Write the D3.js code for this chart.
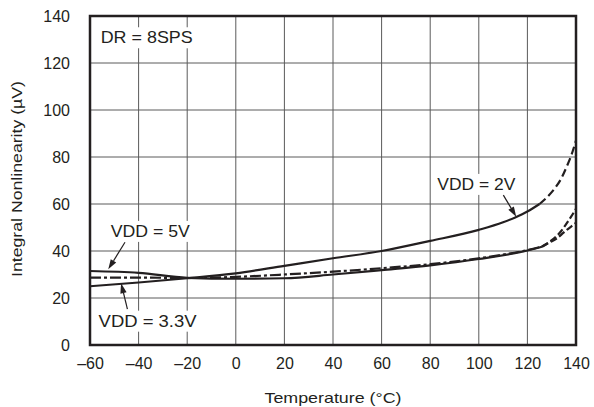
<!DOCTYPE html>
<html>
<head>
  <meta charset="utf-8">
  <script src="https://d3js.org/d3.v7.min.js"></script>
  <style>
    body { margin: 0; background: #fff; }
    text { font-family: "Liberation Sans", Arial, sans-serif; fill: #231f20; }
    .grid line { stroke: #5a5a5a; stroke-width: 1; }
    .curve { fill: none; stroke: #231f20; stroke-width: 2.2; }
  </style>
</head>
<body>
<script>
  // data
  var xTicks = [-60, -40, -20, 0, 20, 40, 60, 80, 100, 120, 140];
  var yTicks = [0, 20, 40, 60, 80, 100, 120, 140];

  var temp2V = [-60, -40, -20, 0, 20, 40, 60, 80, 100, 110, 115, 120, 125];
  var inl2V = [25, 26.6, 28.4, 30.5, 33.7, 36.9, 40, 44.3, 49, 52.2, 54.3, 56.8, 60];
  var temp2VExt = [125, 128, 131, 134, 136, 138, 140];
  var inl2VExt = [60, 62.8, 66.3, 71, 75.5, 80.5, 87];

  var temp5V = [-60, -40, -20, 0, 20, 40, 60, 80, 100, 120, 126];
  var inl5V = [31.5, 30.7, 28.6, 28.2, 28.4, 30.0, 31.9, 33.9, 36.6, 40.2, 41.8];
  var temp5VExt = [126, 129, 132, 134, 136, 138, 140];
  var inl5VExt = [41.8, 43.6, 45.3, 47, 48.8, 50.4, 52];

  var temp33V = [-60, -40, -20, 0, 20, 40, 60, 80, 100, 120, 126];
  var inl33V = [28.7, 28.7, 28.5, 29.0, 30.0, 31.2, 32.7, 34.4, 36.9, 40.4, 41.9];
  var temp33VExt = [126, 129, 132, 134, 136, 138, 140];
  var inl33VExt = [41.9, 43.8, 46.3, 48.6, 51.5, 54.6, 58];

  var width = 594, height = 407;
  var margin = { left: 90, top: 16, right: 18, bottom: 62 };
  var w = width - margin.left - margin.right,
      h = height - margin.top - margin.bottom;

  var svg = d3.select("body").append("svg")
      .attr("width", width)
      .attr("height", height);

  var x = d3.scaleLinear().domain([-60, 140]).range([margin.left, margin.left + w]);
  var y = d3.scaleLinear().domain([0, 140]).range([margin.top + h, margin.top]);

  // grid
  var grid = svg.append("g").attr("class", "grid");
  grid.selectAll(".vx").data(xTicks.slice(1, -1)).enter().append("line")
      .attr("x1", function(d) { return x(d); })
      .attr("x2", function(d) { return x(d); })
      .attr("y1", y(0)).attr("y2", y(140));
  grid.selectAll(".hy").data(yTicks.slice(1, -1)).enter().append("line")
      .attr("y1", function(d) { return y(d); })
      .attr("y2", function(d) { return y(d); })
      .attr("x1", x(-60)).attr("x2", x(140));

  // axes: labels only, no tick marks
  var xAxis = svg.append("g")
      .attr("transform", "translate(0," + (y(0) + 10) + ")")
      .call(d3.axisBottom(x).tickValues(xTicks).tickSize(0).tickFormat(function(d) { return d < 0 ? "\u2013" + (-d) : d; }));
  xAxis.select(".domain").remove();
  xAxis.selectAll("text").attr("font-size", 16).attr("dy", "0.71em").attr("fill", "#231f20");

  var yAxis = svg.append("g")
      .attr("transform", "translate(" + (x(-60) - 17) + ",0)")
      .call(d3.axisLeft(y).tickValues(yTicks).tickSize(0));
  yAxis.select(".domain").remove();
  yAxis.selectAll("text").attr("font-size", 16).attr("fill", "#231f20");

  svg.append("text")
      .attr("x", x(40))
      .attr("y", 403)
      .attr("text-anchor", "middle")
      .attr("font-size", 15)
      .attr("textLength", 137)
      .attr("lengthAdjust", "spacingAndGlyphs")
      .text("Temperature (\u00B0C)");

  svg.append("text")
      .attr("transform", "translate(22,179) rotate(-90)")
      .attr("text-anchor", "middle")
      .attr("font-size", 15)
      .attr("textLength", 196)
      .attr("lengthAdjust", "spacingAndGlyphs")
      .text("Integral Nonlinearity (\u00B5V)");

  // curves
  var line = d3.line()
      .x(function(d) { return x(d[0]); })
      .y(function(d) { return y(d[1]); })
      .curve(d3.curveMonotoneX);

  function draw(ts, vs, dash) {
    svg.append("path")
        .datum(d3.zip(ts, vs))
        .attr("class", "curve")
        .attr("stroke-dasharray", dash)
        .attr("d", line);
  }

  draw(temp2V, inl2V, null);
  draw(temp2VExt, inl2VExt, "8,4");
  draw(temp5V, inl5V, null);
  draw(temp5VExt, inl5VExt, "7,3");
  draw(temp33V, inl33V, "11,3,3,3");
  draw(temp33VExt, inl33VExt, "7,3");

  // frame
  svg.append("rect")
      .attr("x", x(-60)).attr("y", y(140))
      .attr("width", x(140) - x(-60)).attr("height", y(0) - y(140))
      .attr("fill", "none").attr("stroke", "#231f20").attr("stroke-width", 2.5);

  // annotations (placed in data units)
  var labels = [
    { t: "DR = 8SPS", at: [-55.6, 128.4], anchor: "start", len: 92 },
    { t: "VDD = 2V", at: [99, 66], anchor: "middle", len: 78 },
    { t: "VDD = 5V", at: [-35.2, 46], anchor: "middle", len: 79 },
    { t: "VDD = 3.3V", at: [-36.3, 7.8], anchor: "middle", len: 98 }
  ];
  var arrows = [
    { from: [110.1, 63.8], to: [115.4, 54.6] },
    { from: [-45.6, 43.7], to: [-52.5, 32.2] },
    { from: [-44.6, 15.3], to: [-47.2, 26.3] }
  ];

  labels.forEach(function(l) {
    var g = svg.append("g");
    var txt = g.append("text")
        .attr("x", x(l.at[0])).attr("y", y(l.at[1]))
        .attr("text-anchor", l.anchor)
        .attr("font-size", 17)
        .attr("textLength", l.len)
        .attr("lengthAdjust", "spacingAndGlyphs")
        .text(l.t);
    var b = txt.node().getBBox();
    g.insert("rect", "text")
        .attr("x", b.x - 3).attr("y", b.y - 1)
        .attr("width", b.width + 6).attr("height", b.height + 2)
        .attr("fill", "#fff");
  });

  arrows.forEach(function(a) {
    var x1 = x(a.from[0]), y1 = y(a.from[1]), x2 = x(a.to[0]), y2 = y(a.to[1]);
    var ang = Math.atan2(y2 - y1, x2 - x1);
    var len = 10, half = 3.2;
    var bx = x2 - len * Math.cos(ang), by = y2 - len * Math.sin(ang);
    svg.append("line")
        .attr("x1", x1).attr("y1", y1).attr("x2", bx).attr("y2", by)
        .attr("stroke", "#231f20").attr("stroke-width", 1.2);
    svg.append("path")
        .attr("d", "M" + x2 + "," + y2 +
          "L" + (bx + half * Math.sin(ang)) + "," + (by - half * Math.cos(ang)) +
          "L" + (bx - half * Math.sin(ang)) + "," + (by + half * Math.cos(ang)) + "Z")
        .attr("fill", "#231f20");
  });
</script>
</body>
</html>
